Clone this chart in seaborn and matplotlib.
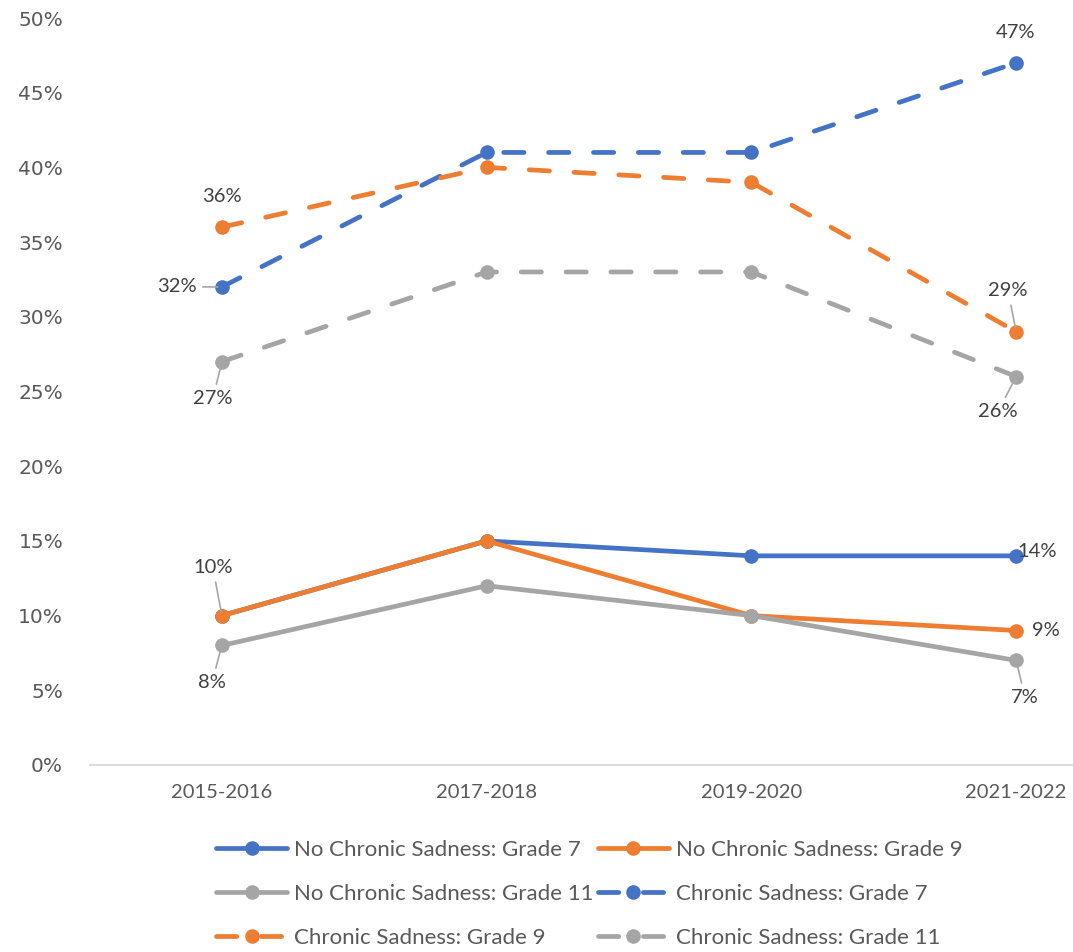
import matplotlib
matplotlib.use("Agg")
import matplotlib.pyplot as plt
from matplotlib.ticker import PercentFormatter
import seaborn as sns
import pandas as pd

# Survey years and share of students by group
years = ["2015-2016", "2017-2018", "2019-2020", "2021-2022"]
series_names = [
    "No Chronic Sadness: Grade 7",
    "No Chronic Sadness: Grade 9",
    "No Chronic Sadness: Grade 11",
    "Chronic Sadness: Grade 7",
    "Chronic Sadness: Grade 9",
    "Chronic Sadness: Grade 11",
]
no_sad_g7 = [0.10, 0.15, 0.14, 0.14]
no_sad_g9 = [0.10, 0.15, 0.10, 0.09]
no_sad_g11 = [0.08, 0.12, 0.10, 0.07]
sad_g7 = [0.32, 0.41, 0.41, 0.47]
sad_g9 = [0.36, 0.40, 0.39, 0.29]
sad_g11 = [0.27, 0.33, 0.33, 0.26]
values = [no_sad_g7, no_sad_g9, no_sad_g11, sad_g7, sad_g9, sad_g11]

BLUE, ORANGE, GRAY = "#4472C4", "#ED7D31", "#A5A5A5"
palette = dict(zip(series_names, [BLUE, ORANGE, GRAY, BLUE, ORANGE, GRAY]))
dashes = dict(zip(series_names, ["", "", "", (4.3, 5.2), (4.3, 5.2), (4.3, 5.2)]))
markers = {name: "o" for name in series_names}

rows = []
for name, vals in zip(series_names, values):
    for i, (yr, v) in enumerate(zip(years, vals)):
        rows.append({"year": yr, "idx": i, "series": name, "share": v})
df = pd.DataFrame(rows)

sns.set_theme(style="white")
plt.rcParams["font.family"] = ["Lato", "DejaVu Sans"]

fig = plt.figure(figsize=(10.73, 9.52), dpi=100)
ax = fig.add_axes([89.5 / 1073, 1 - 765 / 952, 1059 / 1073, 747 / 952])

sns.lineplot(
    data=df, x="idx", y="share", hue="series", style="series",
    hue_order=series_names, style_order=series_names,
    palette=palette, dashes=dashes, markers=markers,
    linewidth=3.4, markersize=10.5, markeredgewidth=0,
    dash_capstyle="round", solid_capstyle="round",
    ax=ax, legend=True,
)

ax.set_xlim(-0.5, 3.5)
ax.set_ylim(0, 0.5)
ax.set_xticks(range(len(years)))
ax.set_xticklabels(years)
ax.set_yticks([i * 0.05 for i in range(11)])
ax.yaxis.set_major_formatter(PercentFormatter(1.0, decimals=0))
ax.set_xlabel("")
ax.set_ylabel("")
ax.tick_params(axis="both", length=0)
ax.tick_params(axis="x", pad=14, labelsize=14.5, labelcolor="#595959")
ax.tick_params(axis="y", pad=19, labelsize=14.5, labelcolor="#595959")
for lab in ax.get_yticklabels():
    lab.set_fontfamily("DejaVu Sans")
for side in ["left", "top", "right"]:
    ax.spines[side].set_visible(False)
ax.spines["bottom"].set_color("#D9D9D9")
ax.spines["bottom"].set_linewidth(1.3)
ax.grid(False)

# Value labels at the first and last survey years (offsets in pixels)
PX = 0.72
labels = [
    # (series index, point index, dx, dy, leader line)
    (3, 0, -45, 0, True),
    (4, 0, 0, 31, False),
    (5, 0, -9, -37, True),
    (1, 0, -9, 48, True),
    (2, 0, -10, -37, True),
    (3, 3, -1, 30, False),
    (4, 3, -8, 41, True),
    (5, 3, -18, -35, True),
    (0, 3, 21, 4, False),
    (1, 3, 30, 0, False),
    (2, 3, 9, -37, True),
]
for s, i, dx, dy, leader in labels:
    v = values[s][i]
    kw = {}
    if leader:
        kw["arrowprops"] = dict(arrowstyle="-", color="#A6A6A6", lw=1.2,
                                shrinkA=2, shrinkB=3)
    ax.annotate(f"{round(v * 100)}%", xy=(i, v), xytext=(dx * PX, dy * PX),
                textcoords="offset points", ha="center", va="center",
                fontsize=14.5, color="#404040", **kw)

# Legend laid out row by row in two columns
handles, labs = ax.get_legend_handles_labels()
ax.get_legend().remove()
lookup = dict(zip(labs, handles))
order = [series_names[k] for k in (0, 2, 4, 1, 3, 5)]
leg = fig.legend([lookup[n] for n in order], order, ncol=2,
                 loc="upper left", bbox_to_anchor=(216 / 1073, 1 - 840 / 952),
                 frameon=False, fontsize=16, handlelength=3.2,
                 handletextpad=0.3, columnspacing=0.2, labelspacing=1.08,
                 borderpad=0, borderaxespad=0)
for t in leg.get_texts():
    t.set_color("#595959")

fig.savefig("out.png", dpi=100)
